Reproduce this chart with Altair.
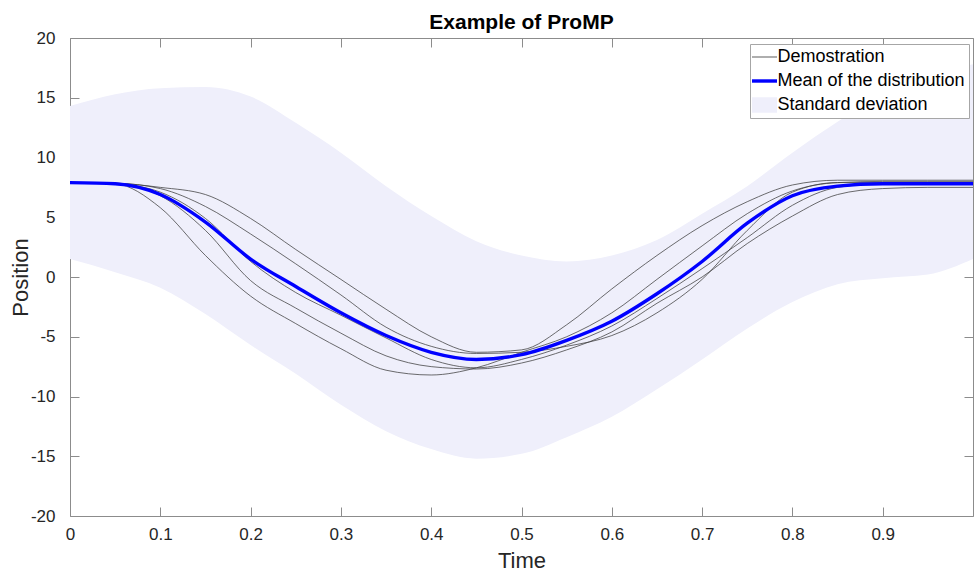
import altair as alt
import pandas as pd

# Sample times of the trajectories
time = [0.0, 0.05, 0.1, 0.15, 0.2, 0.25, 0.3, 0.35, 0.4, 0.45, 0.5,
        0.55, 0.6, 0.65, 0.7, 0.75, 0.8, 0.85, 0.9, 0.95, 1.0]

# Mean of the ProMP distribution
mean_position = [7.9, 7.8, 6.9, 4.6, 1.5, -0.8, -3.0, -4.9, -6.3, -6.9, -6.5,
                 -5.3, -3.7, -1.4, 1.3, 4.5, 6.8, 7.6, 7.8, 7.8, 7.8]

# Standard deviation envelope
std_upper = [14.3, 15.3, 15.8, 15.9, 15.1, 12.9, 10.4, 7.6, 5.1, 3.0, 1.8,
             1.3, 1.8, 3.1, 5.3, 7.6, 10.4, 13.0, 15.2, 16.8, 17.8]
std_lower = [1.5, 0.4, -0.9, -3.1, -5.7, -8.1, -10.7, -12.9, -14.4, -15.2, -14.8,
             -13.4, -11.7, -9.4, -6.9, -4.3, -2.1, -0.6, -0.1, 0.2, 1.5]

# Demonstrated trajectories
demo_a = [7.9, 7.85, 7.5, 6.9, 4.9, 2.3, -0.2, -2.7, -5.0, -6.3, -6.1,
          -4.0, -1.0, 1.8, 4.3, 6.3, 7.7, 8.1, 8.1, 8.1, 8.1]
demo_b = [7.9, 7.85, 7.4, 5.9, 3.6, 1.1, -1.5, -4.2, -5.8, -6.4, -6.3,
          -5.8, -4.9, -3.0, -0.2, 3.9, 7.1, 7.9, 7.9, 7.9, 7.9]
demo_c = [7.9, 7.8, 7.1, 4.9, 1.3, -1.3, -3.2, -5.1, -6.9, -7.6, -6.9,
          -5.7, -4.1, -1.8, 0.7, 3.3, 6.0, 7.5, 7.8, 7.8, 7.8]
demo_d = [7.9, 7.8, 6.8, 3.9, -0.3, -2.6, -4.7, -6.6, -7.5, -7.7, -7.2,
          -6.1, -4.6, -2.2, 0.0, 2.8, 5.1, 6.9, 7.4, 7.5, 7.5]
demo_e = [7.9, 7.8, 5.8, 1.8, -1.6, -3.9, -6.0, -7.8, -8.2, -7.6, -6.3,
          -5.0, -3.0, -0.2, 2.6, 5.3, 7.2, 7.9, 8.0, 8.0, 8.0]
demos = [demo_a, demo_b, demo_c, demo_d, demo_e]

series_names = ["Demostration", "Mean of the distribution", "Standard deviation"]
series_colors = ["#4a4a4a", "#0000ff", "#efeffb"]
series_glyphs = [
    "M-1.39,-0.05H1.39V0.05H-1.39Z",
    "M-1.39,-0.19H1.39V0.19H-1.39Z",
    "M-1.39,-0.86H1.39V0.86H-1.39Z",
]

x_ticks = [0, 0.1, 0.2, 0.3, 0.4, 0.5, 0.6, 0.7, 0.8, 0.9]
y_ticks = [-20, -15, -10, -5, 0, 5, 10, 15, 20]

FONT = "Liberation Sans"
AXIS_GRAY = "#8c8c8c"
TEXT = "#262626"

band_df = pd.DataFrame({"time": time, "upper": std_upper, "lower": std_lower})
mean_df = pd.DataFrame({"time": time, "position": mean_position})
demo_df = pd.DataFrame(
    [{"time": tt, "position": v, "demo": k}
     for k, series in enumerate(demos) for tt, v in zip(time, series)]
)
legend_df = pd.DataFrame({"series": series_names})

x_scale = alt.Scale(domain=[0, 1], nice=False)
y_scale = alt.Scale(domain=[-20, 20], nice=False)


def box_axis(orient, values, title=None, labels=True, pad=4, title_pad=8):
    # ticks point into the plot, MATLAB style
    return alt.Axis(
        orient=orient, values=values, grid=False,
        domainColor=AXIS_GRAY, domainWidth=1,
        tickColor=AXIS_GRAY, tickWidth=1, tickSize=alt.ExprRef(expr="-9"),
        labels=labels, labelFont=FONT, labelFontSize=17, labelColor=TEXT,
        labelExpr="'' + datum.value", labelFlush=False, labelOverlap=False,
        labelPadding=pad,
        title=title, titleFont=FONT, titleFontSize=22,
        titleFontWeight="normal", titleColor=TEXT, titlePadding=title_pad,
    )


band = alt.Chart(band_df).mark_area(color="#efeffb", interpolate="monotone").encode(
    x=alt.X("time:Q", scale=x_scale,
            axis=box_axis("bottom", x_ticks, "Time", pad=19, title_pad=8)),
    y=alt.Y("lower:Q", scale=y_scale,
            axis=box_axis("left", y_ticks, "Position", pad=24, title_pad=-2)),
    y2="upper:Q",
)

demo_lines = alt.Chart(demo_df).mark_line(
    color="#3c3c3c", strokeWidth=0.75, interpolate="monotone"
).encode(
    x=alt.X("time:Q", scale=x_scale, axis=None),
    y=alt.Y("position:Q", scale=y_scale, axis=None),
    detail="demo:N",
)

mean_line = alt.Chart(mean_df).mark_line(
    color="#0000ff", strokeWidth=3.4, interpolate="monotone"
).encode(
    x=alt.X("time:Q", scale=x_scale, axis=box_axis("top", x_ticks, labels=False)),
    y=alt.Y("position:Q", scale=y_scale, axis=box_axis("right", y_ticks, labels=False)),
)

key_legend = alt.Legend(
    orient="none", legendX=680, legendY=6, title=None, direction="vertical",
    fillColor="white", strokeColor="#a6a6a6", padding=4, cornerRadius=0,
    symbolSize=324, symbolOffset=1.5, symbolStrokeWidth=0, symbolOpacity=1,
    labelFont=FONT, labelFontSize=18, labelColor="#000000", labelOffset=4,
    labelLimit=400, rowPadding=6,
)

legend_keys = alt.Chart(legend_df).mark_point(filled=True, opacity=1).encode(
    color=alt.Color("series:N", scale=alt.Scale(domain=series_names, range=series_colors),
                    legend=key_legend),
    shape=alt.Shape("series:N", scale=alt.Scale(domain=series_names, range=series_glyphs),
                    legend=key_legend),
).transform_filter("datum.series == ''")

chart = alt.layer(band, demo_lines, mean_line, legend_keys).resolve_axis(
    x="independent", y="independent"
).properties(
    width=903, height=478,
    autosize=alt.AutoSizeParams(type="none"),
    padding={"left": 70, "top": 38, "right": 1, "bottom": 55},
    background="white",
    title=alt.TitleParams(
        "Example of ProMP", font=FONT, fontSize=21, fontWeight="bold",
        color="#000000", anchor="middle", frame="group", offset=-4,
    ),
).configure_view(stroke=None)

chart.save("out.html", embed_options={"renderer": "svg", "actions": False})
